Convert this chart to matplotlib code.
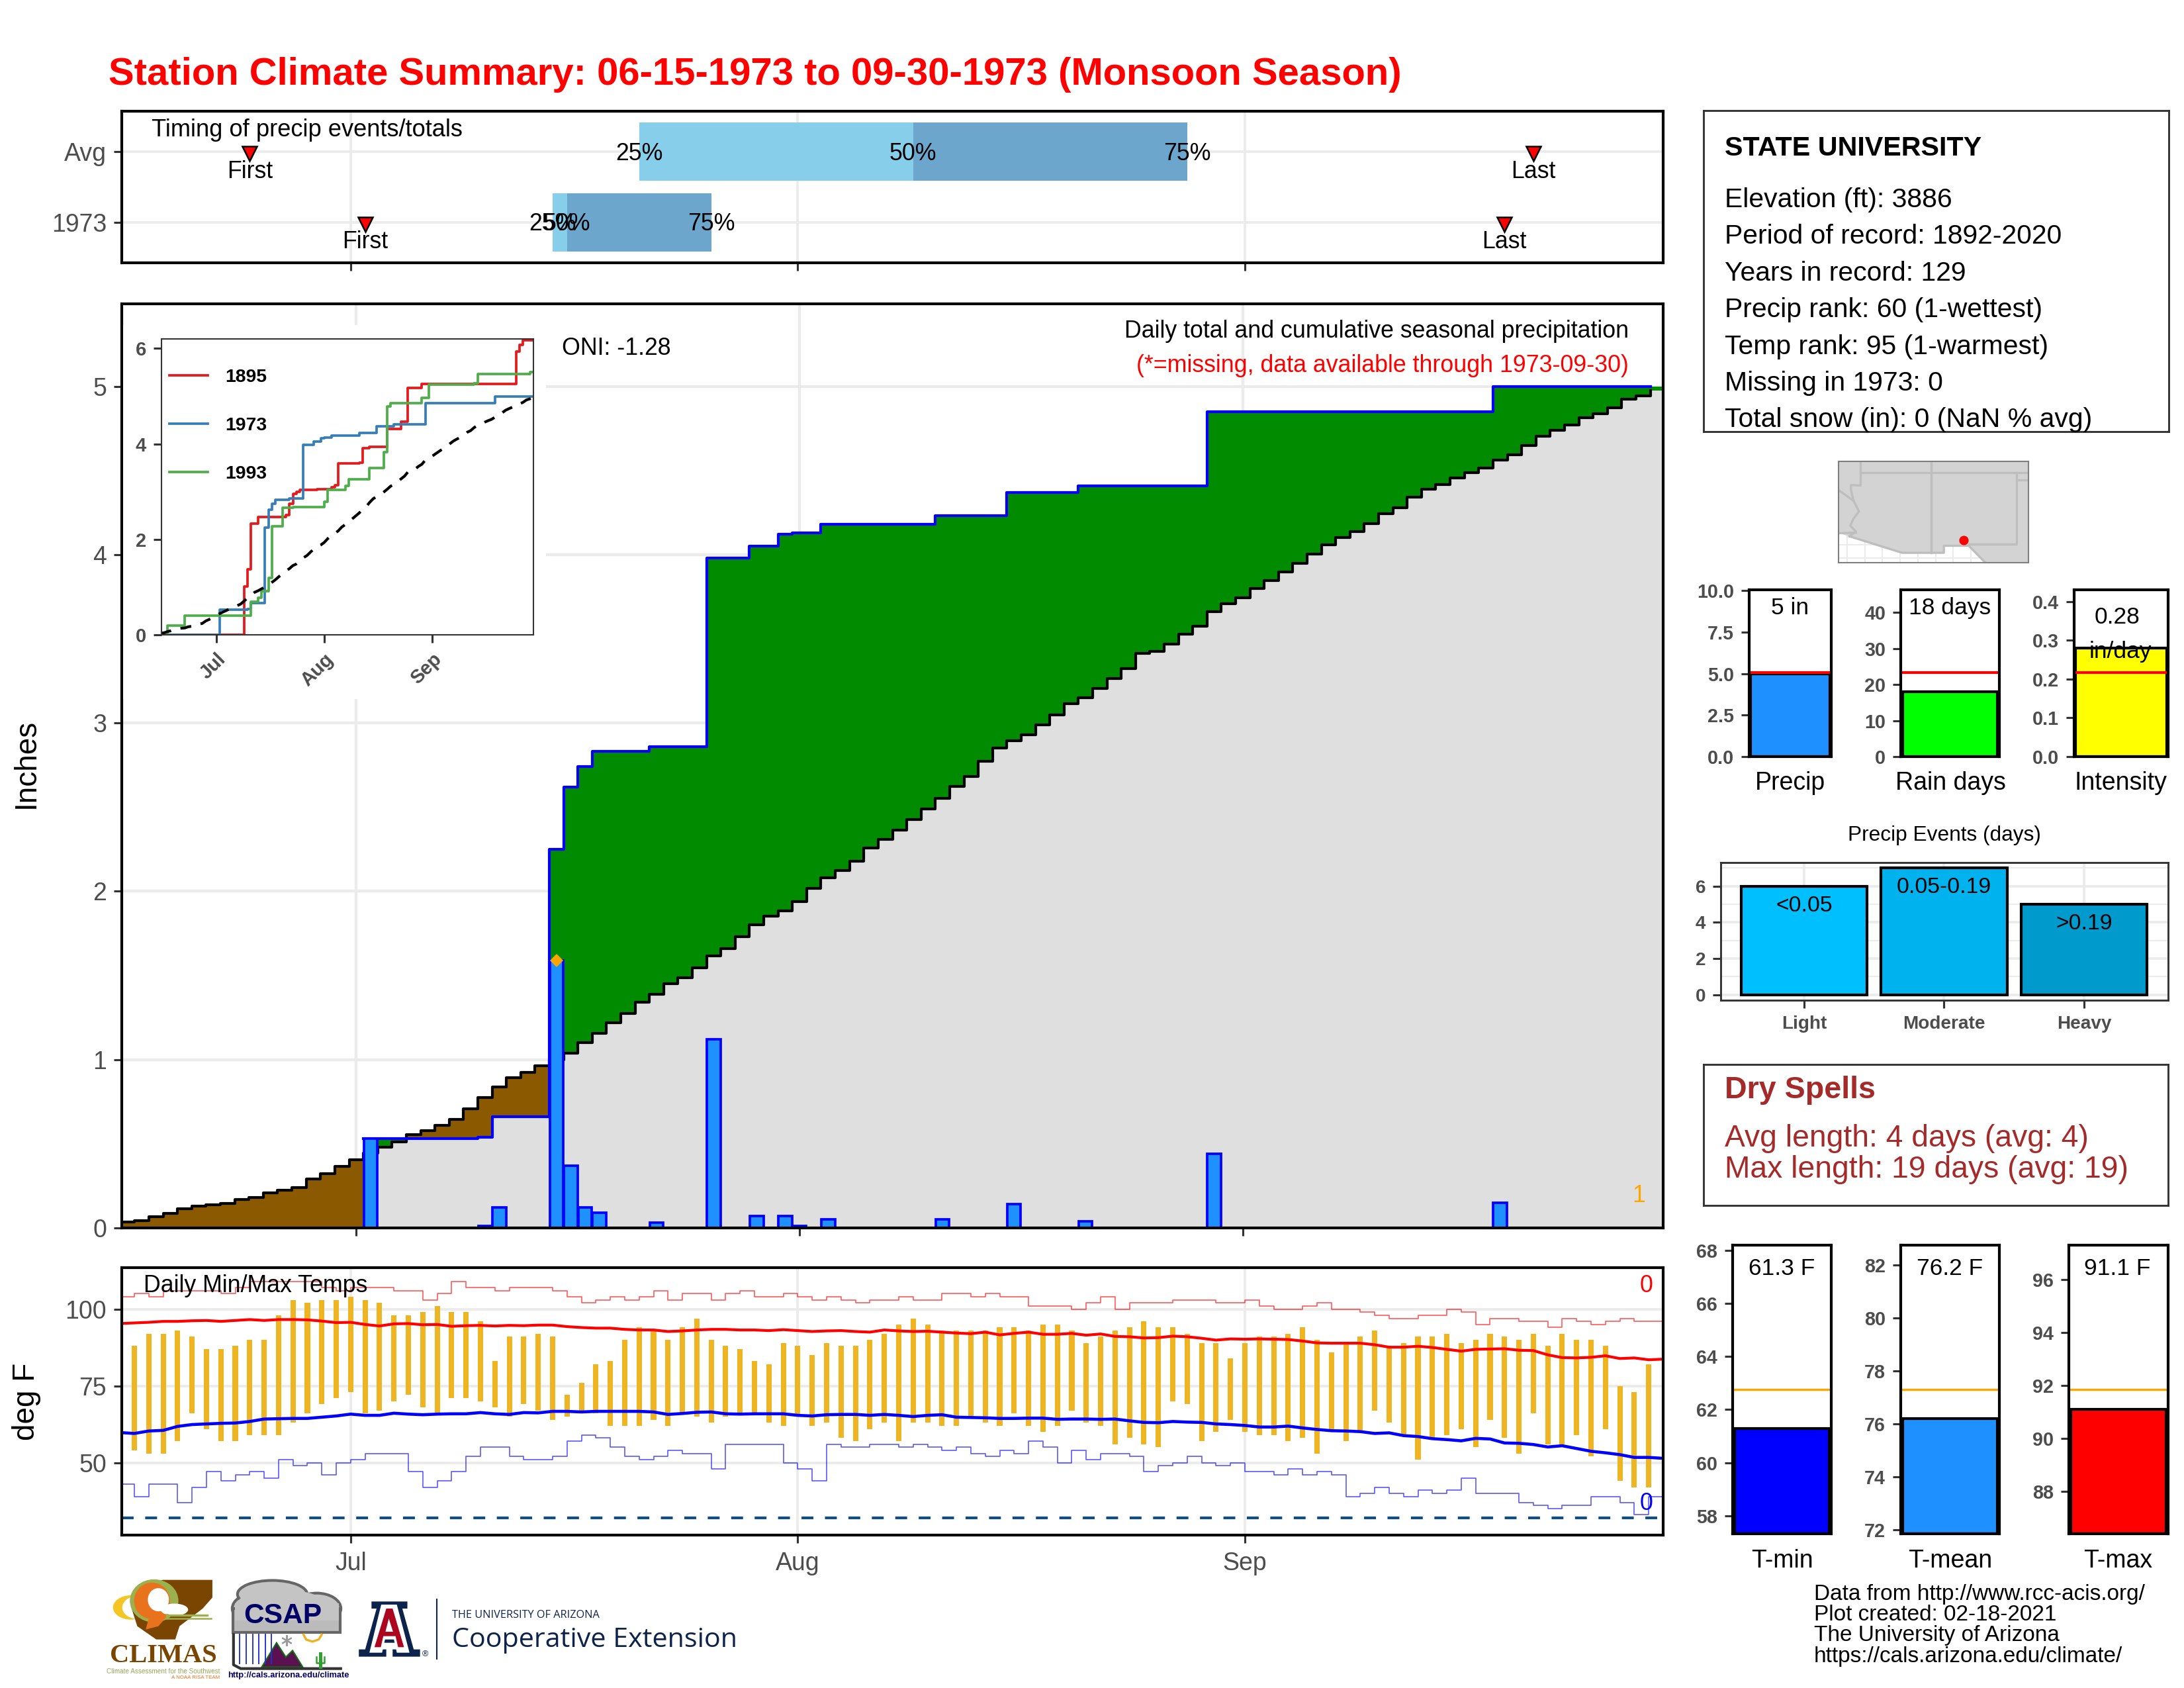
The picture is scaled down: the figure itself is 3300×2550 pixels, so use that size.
import numpy as np
import matplotlib
matplotlib.use('Agg')
import matplotlib.pyplot as plt
from matplotlib.patches import Ellipse, Polygon, Rectangle

plt.rcParams['font.family'] = ['Liberation Sans', 'DejaVu Sans']

W, H = 3300., 2550.

# day numbers: 0 = Jul 1, -16 = Jun 15, 91 = Sep 30
month_days = [0, 31, 62]
month_names = ['Jul', 'Aug', 'Sep']
days = np.arange(-16, 92)

# rain events
rain_day = [1, 9, 10, 14, 15, 16, 17, 21, 25, 28, 30, 31, 33, 41, 46, 51, 60, 80]
rain_in = [0.53, 0.01, 0.12, 1.59, 0.37, 0.12, 0.09, 0.03, 1.12, 0.07, 0.07, 0.01,
           0.05, 0.05, 0.14, 0.04, 0.44, 0.15]

# average cumulative precip, Jun 15 to Sep 30
normal_in = [0.035, 0.042, 0.067, 0.086, 0.115, 0.129, 0.138, 0.144, 0.169, 0.18, 0.21, 0.224,
             0.239, 0.29, 0.323, 0.364, 0.405, 0.445, 0.48, 0.513, 0.553, 0.579, 0.609, 0.645,
             0.707, 0.774, 0.838, 0.891, 0.923, 0.963, 1.00, 1.039, 1.10, 1.155, 1.22, 1.273,
             1.34, 1.387, 1.451, 1.485, 1.546, 1.615, 1.659, 1.73, 1.80, 1.853, 1.882, 1.937,
             2.016, 2.081, 2.123, 2.178, 2.257, 2.309, 2.365, 2.428, 2.49, 2.552, 2.625, 2.682,
             2.773, 2.85, 2.894, 2.93, 2.987, 3.047, 3.113, 3.152, 3.206, 3.266, 3.324, 3.412,
             3.426, 3.47, 3.528, 3.574, 3.663, 3.707, 3.745, 3.797, 3.847, 3.897, 3.949, 4.002,
             4.058, 4.10, 4.137, 4.185, 4.244, 4.279, 4.343, 4.39, 4.417, 4.455, 4.487, 4.516,
             4.562, 4.592, 4.65, 4.705, 4.74, 4.771, 4.815, 4.838, 4.871, 4.922, 4.945, 4.975]

# inset years, as change points
y1895_day = [-16, 8, 9, 10, 12, 20, 21, 22, 23, 24, 29, 33, 34, 35, 41, 42, 44, 49, 53, 55, 59, 80, 86, 87, 88, 91]
y1895_in = [0, 1.01, 1.37, 2.33, 2.47, 2.51, 2.75, 2.95, 2.99, 3.04, 3.05, 3.09, 3.14, 3.59, 3.61,
            3.91, 3.94, 4.31, 4.46, 5.17, 5.25, 5.26, 5.93, 6.07, 6.17, 6.17]
y1993_day = [-16, -14, -9, 10, 12, 13, 15, 16, 19, 22, 31, 32, 37, 38, 44, 48, 49, 50, 59, 61, 74, 75, 90, 91]
y1993_in = [0, 0.2, 0.4, 0.69, 0.78, 0.92, 1.19, 2.28, 2.66, 2.68, 2.79, 3.04, 3.12, 3.26, 3.50,
            3.83, 4.79, 4.86, 4.96, 5.24, 5.27, 5.46, 5.51, 5.51]

# daily temps, Jun 16 to Sep 29
temp_days = np.arange(-15, 91)
t_high = [88, 92, 92, 93, 91, 87, 87, 88, 90, 90, 98, 103, 102, 103, 103, 104, 103, 102, 98, 98, 99, 101,
          99, 99, 96, 83, 91, 91, 92, 91, 72, 76, 82, 83, 90, 94, 93, 90, 94, 97, 90, 88, 87, 83, 82, 89,
          88, 85, 89, 88, 88, 90, 92,
          95, 97, 95, 93, 93, 93, 93, 94, 94, 93, 95, 95, 93, 89, 91, 93, 94, 96, 94, 94, 92, 89, 89, 84,
          89, 91, 91, 92, 94, 90, 86, 89, 91, 93, 88, 89, 91, 91, 92, 89, 90, 92, 91, 90, 92, 88, 92, 90,
          90, 88, 75, 73, 82]
t_low = [54, 53, 53, 57, 66, 61, 57, 57, 59, 59, 59, 63, 66, 69, 71, 73, 66, 67, 70, 72, 68, 66,
         71, 71, 70, 68, 65, 69, 67, 64, 65, 66, 66, 62, 62, 62, 64, 62, 66, 65, 63, 65, 66, 66, 63, 62,
         65, 62, 63, 58, 57, 61, 63,
         57, 63, 63, 62, 62, 65, 63, 62, 66, 62, 60, 62, 67, 63, 62, 56, 58, 56, 55, 70, 69, 57, 60, 64,
         60, 59, 59, 57, 58, 53, 61, 57, 60, 67, 63, 59, 51, 58, 59, 61, 55, 64, 58, 53, 66, 56, 56, 59,
         52, 61, 44, 42, 42]

# average high/low, Jun 15 to Sep 30
avg_high = [95.3, 95.5, 95.7, 96.0, 96.0, 96.2, 96.3, 96.0, 96.3, 96.6, 96.3, 96.6, 96.6, 96.5, 96.1, 95.6,
            95.7, 95.0, 94.5, 95.2, 95.3, 94.9, 95.0, 94.4, 94.6, 94.7, 94.5, 94.7, 94.6, 94.8, 94.8, 94.3,
            94.0, 93.8, 93.8, 93.4, 93.2, 93.2, 92.7, 92.9, 93.2, 93.4, 93.4, 93.2, 93.2, 93.0, 93.3, 93.0,
            92.7, 92.9, 93.0, 92.7, 92.5, 93.2,
            92.9, 92.7, 92.8, 92.5, 92.2, 92.0, 92.5, 91.6, 92.1, 92.5, 91.8, 91.8, 92.1, 91.5, 91.9, 91.1,
            91.0, 90.6, 90.7, 91.2, 91.0, 90.5, 89.9, 90.3, 90.2, 90.3, 90.2, 90.1, 89.6, 89.0, 88.9, 88.9,
            88.9, 88.4, 87.6, 87.6, 87.9, 87.5, 86.9, 86.3, 86.9, 87.0, 87.1, 86.6, 86.5, 85.1, 84.2, 84.1,
            84.3, 84.8, 83.9, 84.1, 83.5, 83.7]
avg_low = [59.8, 59.5, 60.3, 60.5, 61.8, 62.4, 62.6, 62.8, 62.9, 63.4, 64.2, 64.3, 64.4, 64.4, 64.8, 65.2,
           65.8, 65.4, 65.4, 66.1, 65.8, 65.6, 65.8, 65.9, 65.9, 66.3, 65.9, 65.7, 66.3, 66.2, 66.7, 66.7,
           66.5, 66.7, 66.7, 66.7, 66.7, 66.5, 65.7, 66.0, 66.4, 66.5, 65.9, 65.8, 65.9, 65.9, 65.9, 65.4,
           65.2, 65.6, 65.7, 65.7, 65.4, 65.7,
           65.4, 65.0, 65.4, 65.6, 64.8, 64.7, 64.6, 64.4, 64.4, 64.5, 64.5, 64.1, 64.2, 64.2, 64.1, 64.2,
           63.6, 63.1, 63.0, 63.4, 63.2, 63.1, 62.6, 62.4, 62.1, 61.6, 61.6, 61.9, 61.3, 60.8, 60.4, 60.3,
           60.1, 59.5, 59.7, 58.8, 58.5, 57.8, 57.5, 57.1, 57.9, 57.7, 56.4, 56.3, 55.9, 55.1, 55.5, 54.6,
           53.7, 53.2, 52.6, 51.7, 51.7, 51.4]
# daily records, Jun 15 to Sep 30
rec_high = [104, 105, 104, 106, 106, 106, 106, 105, 107, 109, 109, 109, 109, 109, 107, 106,
            107, 107, 107, 106, 106, 103, 105, 109, 107, 107, 106, 107, 107, 107, 106, 104, 102, 103, 104,
            103, 104, 106, 103, 105, 105, 103, 105, 106, 104, 104, 105, 104, 103, 104, 103, 102, 103, 103,
            104, 103, 103, 105, 105, 104, 105, 104, 104, 101, 101, 101, 100, 102, 104, 100, 102, 102, 102,
            103, 103, 103, 102, 102, 103, 101, 100, 100, 101, 102, 100, 100, 99, 98, 97, 97, 98, 98, 100,
            99, 95, 97, 97, 96, 96, 94, 97, 96, 95, 96, 97, 96, 96, 96]
rec_low = [43, 39, 43, 43, 37, 42, 47, 44, 46, 47, 45, 51, 49, 50, 46, 50,
           51, 53, 53, 53, 47, 42, 44, 47, 52, 55, 55, 52, 51, 51, 52, 57, 59, 58, 55, 52, 51, 52, 54, 53,
           53, 48, 56, 56, 56, 56, 50, 48, 44, 56, 55, 55, 56, 56,
           55, 56, 55, 54, 55, 53, 52, 54, 53, 57, 55, 50, 54, 51, 53, 53, 52, 47, 49, 50, 52, 50, 49, 50,
           47, 47, 46, 48, 46, 47, 46, 39, 40, 42, 40, 39, 41, 40, 41, 45, 40, 40, 40, 37, 36, 35, 36, 36,
           39, 39, 37, 33, 39, 39]

# timing panel: [25%, 50%, 75%], first, last
avg_q = [20, 39, 58]
yr_q = [14, 15, 25]
avg_first, avg_last = -7, 82
yr_first, yr_last = 1, 80

info_lines = ['Elevation (ft): 3886', 'Period of record: 1892-2020', 'Years in record: 129',
              'Precip rank: 60 (1-wettest)', 'Temp rank: 95 (1-warmest)', 'Missing in 1973: 0',
              'Total snow (in): 0 (NaN % avg)']
info_y = [299, 354, 410, 465, 521, 576, 631]

event_names = ['Light', 'Moderate', 'Heavy']
event_days = [6, 7, 5]
event_labels = ['<0.05', '0.05-0.19', '>0.19']
event_cols = ['#00BFFF', '#00B2EE', '#009ACD']

# map outlines, lon/lat
map_land_lon = [-115.6, -114.83, -111.11, -108.17, -108.17, -106.41, -105.23, -102.2, -102.2, -115.6]
map_land_lat = [32.72, 32.5, 31.33, 31.33, 31.83, 31.83, 30.62, 30.62, 37.82, 37.82]
river_lon = [-114.04, -114.04, -114.72, -114.72, -114.54, -114.16, -114.54, -114.77, -114.38, -114.83]
river_lat = [37.82, 36.11, 36.14, 35.78, 35.02, 34.27, 33.76, 33.26, 32.84, 32.5]
station_lon, station_lat = -106.77, 32.25

GRAY = '#4D4D4D'
GRID = '#EBEBEB'
BORDER = '#BEBEBE'


def rect(l, t, r, b):
    return [l / W, 1 - b / H, (r - l) / W, (b - t) / H]


def ftext(x, y, s, **kw):
    kw.setdefault('va', 'center')
    return fig.text(x / W, 1 - (y + 3) / H, s, **kw)


def frame(ax, lw=1.0, color='black'):
    for s in ax.spines.values():
        s.set_linewidth(lw)
        s.set_color(color)
        s.set_zorder(6)


def ticks(ax, size=9, bold=False):
    ax.tick_params(length=2.9, width=0.75, color='#333333', labelcolor=GRAY, labelsize=size, pad=2.6)
    if bold:
        for t in ax.get_xticklabels() + ax.get_yticklabels():
            t.set_fontweight('bold')


fig = plt.figure(figsize=(11, 8.5), dpi=300)
ftext(164, 110, 'Station Climate Summary: 06-15-1973 to 09-30-1973 (Monsoon Season)',
      color='red', fontsize=13.93, fontweight='bold', ha='left')

# ---- timing panel ----
ax = fig.add_axes(rect(184, 168, 2513, 397))
ax.set_xlim(-15.87, 91)
ax.set_ylim(0.425, 2.575)
ax.set_xticks(month_days)
ax.set_xticklabels([])
ax.set_yticks([1, 2])
ax.set_yticklabels(['1973', 'Avg'])
ax.grid(color=GRID, lw=0.9)
ax.set_axisbelow(True)
for row, q in ((2, avg_q), (1, yr_q)):
    ax.barh(row, q[1] - q[0], left=q[0], height=0.83, color='#87CEEB')
    ax.barh(row, q[2] - q[1], left=q[1], height=0.83, color='#6CA6CD')
    for v, lab in zip(q, ['25%', '50%', '75%']):
        ax.text(v, row - 0.03, lab, ha='center', va='center', fontsize=8.6)
for row, first, last in ((2, avg_first, avg_last), (1, yr_first, yr_last)):
    ax.plot([first, last], [row - 0.03, row - 0.03], ls='', marker='v', ms=5.2, mfc='red', mec='black', mew=0.6)
    ax.text(first, row - 0.28, 'First', ha='center', va='center', fontsize=8.6)
    ax.text(last, row - 0.28, 'Last', ha='center', va='center', fontsize=8.6)
ftext(229, 193, 'Timing of precip events/totals', fontsize=8.7, ha='left', zorder=10)
ticks(ax)
frame(ax)

# ---- main precip panel ----
ax = fig.add_axes(rect(184, 459, 2513, 1855))
precip = np.zeros(len(days))
precip[np.array(rain_day) + 16] = rain_in
cum = np.cumsum(precip)
norm = np.array(normal_in)
edges = np.append(days - 0.5, days[-1] + 0.5)


def ext(v):
    return np.append(v, v[-1])


ax.set_xlim(-16.4, 91.4)
ax.set_ylim(0, 5.49)
ax.set_xticks(month_days)
ax.set_xticklabels([])
ax.set_yticks(range(6))
ax.grid(color=GRID, lw=1.05)
ax.set_axisbelow(True)
ax.fill_between(edges, 0, ext(np.minimum(cum, norm)), step='post', color='#DFDFDF', lw=0)
ax.fill_between(edges, ext(norm), ext(np.maximum(cum, norm)), step='post', color='#008B00', lw=0)
ax.fill_between(edges, ext(cum), ext(np.maximum(cum, norm)), step='post', color='#8B5A00', lw=0)
ax.step(edges[:-1], norm, where='post', color='black', lw=1.0, zorder=3)
# no blue line along the axis before the first rain
ax.step(edges[:-1], np.ma.masked_where(cum == 0, cum), where='post', color='blue', lw=1.0, zorder=3)
ax.bar(rain_day, rain_in, width=0.95, color='#1E90FF', edgecolor='blue', lw=0.9, zorder=4)
ax.plot([14], [1.59], ls='', marker='D', ms=3.4, color='orange', mew=0, zorder=5)
ax.text(89.7, 0.19, '1', color='orange', fontsize=8.6, ha='center', va='center')
ticks(ax)
frame(ax)

# white block behind the inset
bg = fig.add_axes(rect(186, 491, 825, 1056), facecolor='white', zorder=2)
bg.set_axis_off()
bg.add_patch(Rectangle((0, 0), 1, 1, transform=bg.transAxes, color='white'))

ins = fig.add_axes(rect(244, 512, 806, 959), zorder=3)
ins.step(y1895_day, y1895_in, where='post', color='#E41A1C', lw=0.9, label='1895')
ins.step(days, cum, where='post', color='#377EB8', lw=0.9, label='1973')
ins.step(y1993_day, y1993_in, where='post', color='#4DAF4A', lw=0.9, label='1993')
ins.plot(days, norm, color='black', lw=1.0, dashes=(4, 3.5))
ins.set_xlim(-15.7, 91)
ins.set_ylim(0, 6.2)
ins.set_xticks(month_days)
ins.set_xticklabels(month_names, rotation=45, ha='right', rotation_mode='anchor')
ins.set_yticks([0, 2, 4, 6])
ticks(ins, size=7, bold=True)
frame(ins, lw=0.5, color='#333333')
ins.legend(loc='upper left', bbox_to_anchor=(0.022, 0.9), frameon=False, labelspacing=1.67, handlelength=2.05,
           handletextpad=0.9, borderpad=0, borderaxespad=0, prop={'weight': 'bold', 'size': 6.8})

ftext(849, 523, 'ONI: -1.28', fontsize=8.6, ha='left', zorder=5)
ftext(2461, 498, 'Daily total and cumulative seasonal precipitation', fontsize=8.6, ha='right', zorder=5)
ftext(2461, 550, '(*=missing, data available through 1973-09-30)', color='red', fontsize=8.6, ha='right', zorder=5)
ftext(40, 1150, 'Inches', rotation=90, fontsize=11, ha='center')

# ---- temp panel ----
ax = fig.add_axes(rect(184, 1915, 2513, 2319))
ax.set_xlim(-15.87, 91)
ax.set_ylim(26.4, 113.5)
ax.set_xticks(month_days)
ax.set_xticklabels(month_names)
ax.set_yticks([50, 75, 100])
ax.grid(color=GRID, lw=0.9)
ax.set_axisbelow(True)
ax.bar(temp_days, np.array(t_high) - np.array(t_low), bottom=t_low, width=0.37, color='#EEB422', lw=0)
ax.step(days, rec_high, where='post', color='red', lw=0.4, alpha=0.65)
ax.step(days, rec_low, where='post', color='blue', lw=0.4, alpha=0.65)
ax.plot(days, avg_high, color='red', lw=1.0)
ax.plot(days, avg_low, color='blue', lw=1.1)
ax.axhline(32, color='#104E8B', lw=1.0, dashes=(4.3, 4.2))
ax.text(0.9935, 0.932, '0', color='red', fontsize=8.6, ha='right', va='center', transform=ax.transAxes)
ax.text(0.9935, 0.118, '0', color='blue', fontsize=8.6, ha='right', va='center', transform=ax.transAxes)
ticks(ax)
ax.tick_params(axis='x', pad=3)
frame(ax)
ftext(217, 1939, 'Daily Min/Max Temps', fontsize=8.6, ha='left', zorder=5)
ftext(40, 2114, 'deg F', rotation=90, fontsize=11, ha='center')

# ---- station box ----
box = fig.add_axes(rect(2574, 167, 3277, 652))
box.set_xticks([])
box.set_yticks([])
frame(box, lw=0.7, color='#333333')
ftext(2606, 221, 'STATE UNIVERSITY', fontsize=9.9, fontweight='bold', ha='left')
for y, line in zip(info_y, info_lines):
    ftext(2606, y, line, fontsize=9.8, ha='left')

# ---- map ----
mp = fig.add_axes(rect(2778, 697, 3065, 850))
mp.set_xlim(-115.6, -102.2)
mp.set_ylim(30.63, 37.82)
mp.set_xticks([])
mp.set_yticks([])
for lon in np.arange(-115, -104, 1.25):
    mp.axvline(lon, color=GRID, lw=0.5, zorder=1)
for lat in [30.94, 31.92]:
    mp.axhline(lat, color=GRID, lw=0.5, zorder=1)
mp.fill(map_land_lon, map_land_lat, color='#D3D3D3', lw=0, zorder=2)
mp.plot(river_lon, river_lat, color=BORDER, lw=0.8, zorder=3)
mp.plot([-115.6, -114.54], [35.78, 35.02], color=BORDER, lw=0.8, zorder=3)
mp.plot([-115.6, -114.38], [32.72, 32.76], color=BORDER, lw=0.8, zorder=3)
mp.plot([-114.04, -102.2], [37, 37], color=BORDER, lw=0.8, zorder=3)
mp.plot([-109.05, -109.05], [37.82, 31.33], color=BORDER, lw=0.8, zorder=3)
mp.plot([-103.04, -103.04, -106.41], [37, 31.95, 31.95], color=BORDER, lw=0.8, zorder=3)
mp.plot([-103.04, -102.2], [36.5, 36.5], color=BORDER, lw=0.8, zorder=3)
mp.plot(map_land_lon[1:7], map_land_lat[1:7], color=BORDER, lw=0.8, zorder=3)
mp.plot([station_lon], [station_lat], ls='', marker='o', ms=3.4, color='red', mew=0, zorder=4)
frame(mp, lw=0.5, color='#7F7F7F')


# ---- small summary bars ----
def side_bar(box_px, value, ylim, yticks, fmt, color, line, line_col, texts, label, label_x, label_y):
    a = fig.add_axes(rect(*box_px))
    a.bar(0.5, value - ylim[0], bottom=ylim[0], width=0.965, color=color, edgecolor='black', lw=1.0)
    a.axhline(line, color=line_col, lw=1.0 if line_col == 'red' else 0.8)
    a.set_xlim(0, 1)
    a.set_ylim(*ylim)
    a.set_xticks([])
    a.set_yticks(yticks)
    a.set_yticklabels([fmt % t for t in yticks])
    ticks(a, size=6.9, bold=True)
    frame(a)
    for tx, ty, s in texts:
        a.text(tx, ty, s, transform=a.transAxes, ha='center', va='center', fontsize=8.5, zorder=5)
    ftext(label_x, label_y, label, fontsize=9, ha='center')


side_bar((2643, 891, 2767, 1143), 5, (0, 10.05), [0, 2.5, 5, 7.5, 10], '%.1f', '#1E90FF', 5.06, 'red',
         [(0.496, 0.889, '5 in')], 'Precip', 2705, 1180)
side_bar((2872, 891, 3021, 1143), 18, (0, 46.3), [0, 10, 20, 30, 40], '%d', '#00FF00', 23.3, 'red',
         [(0.5, 0.889, '18 days')], 'Rain days', 2947, 1180)
side_bar((3134, 891, 3276, 1143), 0.28, (0, 0.43), [0, 0.1, 0.2, 0.3, 0.4], '%.1f', '#FFFF00', 0.2164, 'red',
         [(0.46, 0.835, '0.28'), (0.495, 0.63, 'in/day')], 'Intensity', 3204, 1180)
side_bar((2618, 1881, 2767, 2317), 61.3, (57.32, 68.2), [58, 60, 62, 64, 66, 68], '%d', 'blue', 62.77, 'orange',
         [(0.497, 0.918, '61.3 F')], 'T-min', 2693, 2355)
side_bar((2872, 1881, 3021, 2317), 76.2, (71.85, 82.75), [72, 74, 76, 78, 80, 82], '%d', '#1E90FF', 77.3, 'orange',
         [(0.5, 0.918, '76.2 F')], 'T-mean', 2947, 2355)
side_bar((3126, 1881, 3276, 2317), 91.1, (86.41, 97.29), [88, 90, 92, 94, 96], '%d', 'red', 91.85, 'orange',
         [(0.49, 0.918, '91.1 F')], 'T-max', 3200, 2355)

# ---- precip events ----
ev = fig.add_axes(rect(2600, 1303, 3276, 1511))
ev.set_xlim(0.405, 3.6)
ev.set_ylim(-0.31, 7.3)
ev.set_xticks([1, 2, 3])
ev.set_xticklabels(event_names)
ev.set_yticks([0, 2, 4, 6])
ev.set_yticks([1, 3, 5, 7], minor=True)
ev.grid(color=GRID, lw=0.9)
ev.grid(which='minor', color=GRID, lw=0.5)
ev.tick_params(which='minor', length=0)
ev.set_axisbelow(True)
ev.bar([1, 2, 3], event_days, width=0.9, color=event_cols, edgecolor='black', lw=1.0)
for i, (v, lab) in enumerate(zip(event_days, event_labels)):
    ev.text(i + 1, v - 1.08, lab, ha='center', va='center', fontsize=8.1)
ticks(ev, size=6.7, bold=True)
frame(ev, lw=0.7, color='#333333')
ftext(2938, 1259, 'Precip Events (days)', fontsize=7.6, ha='center')

# ---- dry spells ----
dry = fig.add_axes(rect(2574, 1608, 3276, 1821))
dry.set_xticks([])
dry.set_yticks([])
frame(dry, lw=0.7, color='#333333')
ftext(2606, 1644, 'Dry Spells', color='#A52A2A', fontsize=11.2, fontweight='bold', ha='left')
ftext(2606, 1717, 'Avg length: 4 days (avg: 4)', color='#A52A2A', fontsize=11.1, ha='left')
ftext(2606, 1764, 'Max length: 19 days (avg: 19)', color='#A52A2A', fontsize=11.1, ha='left')

# credits
for y, s in zip([2405, 2437, 2468, 2500],
                ['Data from http://www.rcc-acis.org/', 'Plot created: 02-18-2021',
                 'The University of Arizona', 'https://cals.arizona.edu/climate/']):
    ftext(2741, y, s, fontsize=8, ha='left')

# ---- logos, rough redraw ----
lg = fig.add_axes(rect(150, 2350, 1150, 2550), zorder=4)
lg.set_xlim(0, 1568)
lg.set_ylim(600, 0)
lg.set_axis_off()
NAVY = '#0C234B'
BROWN = '#7A4500'
lg.add_patch(Ellipse((75, 235), 85, 110, color='#F3C623', lw=0))
lg.add_patch(Ellipse((92, 235), 75, 105, color='white', lw=0))
lg.add_patch(Polygon([(150, 110), (268, 110), (268, 190), (245, 240), (190, 320), (180, 380), (135, 380), (90, 320),
                      (75, 230), (100, 150)], color=BROWN, lw=0))
lg.add_patch(Ellipse((130, 205), 115, 195, color='#9DB04E', lw=0))
lg.add_patch(Ellipse((125, 205), 85, 165, color='#E8731C', lw=0))
lg.add_patch(Ellipse((140, 200), 50, 105, color='white', lw=0))
lg.add_patch(Ellipse((178, 245), 65, 55, color='white', lw=0))
lg.add_patch(Polygon([(120, 265), (165, 265), (140, 320), (110, 335)], color='#E8731C', lw=0))
lg.plot([160, 255], [270, 270], color='#9DB04E', lw=0.8)
lg.plot([160, 265], [285, 285], color='#9DB04E', lw=0.6)
lg.text(152, 455, 'CLIMAS', family='Liberation Serif', fontweight='bold', fontsize=9.7, color=BROWN, ha='center', va='center')
lg.text(152, 526, 'Climate Assessment for the Southwest', fontsize=2.4, color='#9AA85A', ha='center', va='center')
lg.text(228, 552, 'A NOAA RISA TEAM', fontsize=1.9, color='#E8731C', ha='center', va='center')

for xy, wd, ht in (((375, 240), 120, 145), ((410, 175), 165, 125), ((515, 240), 115, 140)):
    lg.add_patch(Ellipse(xy, wd, ht, fc='#C4C4C4', ec='#666666', lw=1.0))
lg.add_patch(Rectangle((317, 240), 254, 108, fc='#BBBBBB', ec='#666666', lw=1.0))
lg.add_patch(Ellipse((430, 210), 200, 110, color='#C4C4C4', lw=0))
lg.add_patch(Rectangle((322, 215), 245, 80, color='#C4C4C4', lw=0))
lg.text(435, 272, 'CSAP', fontweight='bold', fontsize=10.2, color='#000066', ha='center', va='center')
for x in [332, 348, 363, 378, 393, 408]:
    lg.plot([x, x], [358, 490], color='#2030D0', lw=0.45)
lg.plot([318, 318, 335, 572], [358, 495, 512, 512], color='#333333', lw=1.0)
lg.add_patch(Polygon([(385, 505), (420, 395), (442, 460), (458, 430), (482, 505)], fc='#5B1050', ec='#107010', lw=0.5))
lg.plot([444], [385], ls='', marker=(6, 2, 0), ms=4, color='#9A9A9A', mew=0.5)
lg.plot([484, 490, 505, 520, 527], [358, 380, 390, 380, 358], color='#F0B020', lw=0.8)
lg.plot([524, 524], [445, 505], color='#30A030', lw=1.2)
lg.plot([515, 515, 533, 533], [460, 485, 485, 460], color='#30A030', lw=0.6)
lg.text(448, 543, 'http://cals.arizona.edu/climate', fontweight='bold', fontsize=3.1, color='#000066', ha='center', va='center')

lg.add_patch(Polygon([(645, 208), (730, 208), (730, 240), (718, 240), (745, 425), (760, 425), (760, 458), (695, 458), (695, 425),
                      (708, 425), (703, 395), (672, 395), (667, 425), (680, 425), (680, 458), (615, 458), (615, 425), (630, 425),
                      (657, 240), (645, 240)], color=NAVY, lw=0))
lg.add_patch(Polygon([(668, 222), (705, 222), (735, 440), (705, 440), (698, 380), (677, 380), (670, 440), (640, 440)],
                     color='white', lw=0))
lg.add_patch(Polygon([(680, 240), (695, 240), (722, 415), (708, 415), (702, 365), (673, 365), (667, 415), (652, 415)],
                     color='#AB0520', lw=0))
lg.add_patch(Polygon([(686, 285), (696, 345), (678, 345)], color='white', lw=0))
lg.text(772, 447, '\u00ae', fontsize=3, color=NAVY, ha='center', va='center')
lg.plot([800, 800], [198, 468], color=NAVY, lw=0.5)
lg.text(835, 270, 'THE UNIVERSITY OF ARIZONA', fontsize=3.9, color=NAVY, family='Open Sans', ha='left', va='center')
lg.text(835, 383, 'Cooperative Extension', fontsize=9.9, color=NAVY, family='Open Sans', ha='left', va='center')

fig.savefig('out.png', dpi=300)
